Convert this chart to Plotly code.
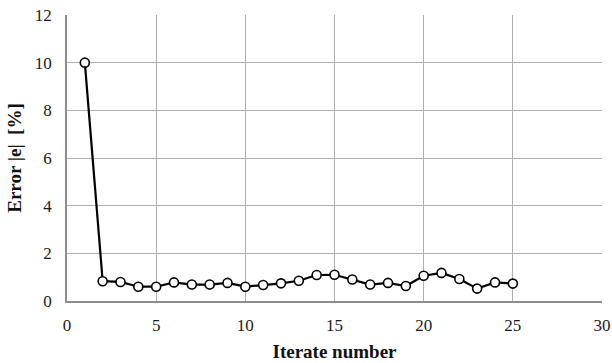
import plotly.graph_objects as go

iterations = list(range(1, 26))
error_pct = [10.0, 0.83, 0.80, 0.60, 0.60, 0.78, 0.69, 0.69, 0.76, 0.60,
             0.67, 0.74, 0.85, 1.09, 1.10, 0.90, 0.69, 0.76, 0.63, 1.06,
             1.18, 0.92, 0.52, 0.78, 0.73]
x_ticks = [0, 5, 10, 15, 20, 25, 30]
y_ticks = [0, 2, 4, 6, 8, 10, 12]

font_family = "Liberation Serif"

fig = go.Figure()
fig.add_trace(go.Scatter(
    x=iterations, y=error_pct, mode="lines+markers",
    line=dict(color="black", width=2.2),
    marker=dict(symbol="circle", size=9, color="white",
                line=dict(color="black", width=1.6)),
    showlegend=False,
))

axis_common = dict(
    showgrid=True, gridcolor="#b0b0b0", gridwidth=1.2,
    showline=True, linecolor="#8c8c8c", linewidth=1.5,
    zeroline=False, ticks="", mirror=False, automargin=False,
    tickfont=dict(family=font_family, size=17, color="#1a1a1a"),
)

fig.update_xaxes(range=[0, 30], tickvals=x_ticks, ticklabelstandoff=8,
                 title=dict(text="<b>Iterate number</b>", standoff=11,
                            font=dict(family=font_family, size=19, color="#111")),
                 **axis_common)
fig.update_yaxes(range=[0, 12], tickvals=y_ticks, ticklabelstandoff=10,
                 title=dict(text="<b>Error |e|  [%]</b>", standoff=8,
                            font=dict(family=font_family, size=19, color="#111")),
                 **axis_common)

fig.update_layout(
    width=612, height=363,
    margin=dict(l=67, r=10, t=15, b=62),
    paper_bgcolor="white", plot_bgcolor="white",
    font=dict(family=font_family),
)

fig.write_html("out.html")
